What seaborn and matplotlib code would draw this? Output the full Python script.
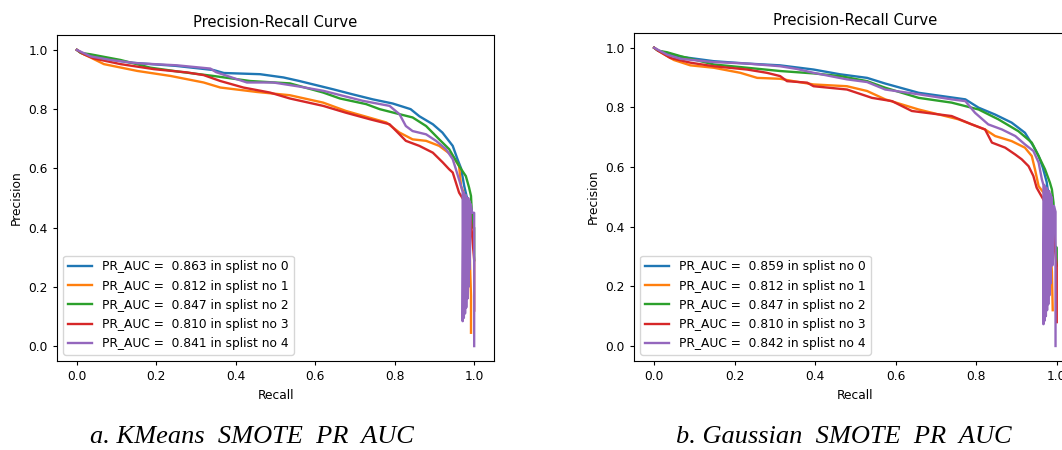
import matplotlib
matplotlib.use("Agg")
import matplotlib.pyplot as plt
import seaborn as sns
import pandas as pd

# ---- data (recall, precision) ----
kmeans_auc = [0.863, 0.812, 0.847, 0.810, 0.841]
gauss_auc = [0.859, 0.812, 0.847, 0.810, 0.842]

# KMeans SMOTE
km_rec_0 = [0.0, 0.01, 0.03, 0.068, 0.135, 0.25, 0.344, 0.37, 0.461, 0.52, 0.56, 0.645, 0.694, 0.745,
            0.795, 0.84, 0.862, 0.896, 0.92, 0.946, 0.958, 0.967, 0.975, 0.982, 0.99]
km_pre_0 = [1.0, 0.99, 0.98, 0.971, 0.957, 0.946, 0.932, 0.922, 0.918, 0.907, 0.895, 0.867, 0.85, 0.833,
            0.819, 0.80, 0.776, 0.749, 0.721, 0.676, 0.631, 0.600, 0.54, 0.50, 0.42]
km_rec_1 = [0.0, 0.01, 0.035, 0.068, 0.152, 0.236, 0.319, 0.361, 0.453, 0.536, 0.62, 0.677, 0.779, 0.812,
            0.845, 0.879, 0.912, 0.946, 0.962, 0.967, 0.985, 0.992, 0.992]
km_pre_1 = [1.0, 0.99, 0.974, 0.952, 0.929, 0.912, 0.89, 0.873, 0.858, 0.847, 0.822, 0.794, 0.755, 0.721,
            0.698, 0.693, 0.676, 0.642, 0.608, 0.54, 0.48, 0.169, 0.045]
km_rec_2 = [0.0, 0.01, 0.035, 0.11, 0.185, 0.26, 0.344, 0.436, 0.536, 0.62, 0.662, 0.728, 0.762, 0.812,
            0.845, 0.879, 0.912, 0.937, 0.962, 0.979, 0.987, 0.992, 0.996, 1.0, 1.0]
km_pre_2 = [1.0, 0.99, 0.985, 0.966, 0.94, 0.926, 0.912, 0.895, 0.887, 0.856, 0.836, 0.817, 0.80, 0.783,
            0.772, 0.743, 0.698, 0.665, 0.608, 0.574, 0.536, 0.507, 0.40, 0.40, 0.29]
km_rec_3 = [0.0, 0.018, 0.043, 0.11, 0.194, 0.277, 0.319, 0.361, 0.419, 0.486, 0.536, 0.62, 0.677, 0.737,
            0.787, 0.812, 0.828, 0.862, 0.896, 0.921, 0.937, 0.946, 0.962, 0.975, 0.99, 1.0, 1.0]
km_pre_3 = [1.0, 0.985, 0.971, 0.952, 0.935, 0.924, 0.915, 0.895, 0.873, 0.856, 0.836, 0.811, 0.788, 0.766,
            0.749, 0.715, 0.693, 0.676, 0.653, 0.62, 0.597, 0.586, 0.518, 0.49, 0.45, 0.29, 0.12]
km_rec_4 = [0.0, 0.035, 0.085, 0.152, 0.252, 0.336, 0.35, 0.403, 0.428, 0.494, 0.561, 0.62, 0.72, 0.787,
            0.812, 0.828, 0.845, 0.879, 0.904, 0.929, 0.946, 0.954, 0.967,
            0.971, 0.971, 0.973, 0.974, 0.976, 0.977, 0.979, 0.980, 0.982, 0.983, 0.985, 0.986,
            0.988, 0.989, 0.991, 0.995, 1.0, 1.0]
km_pre_4 = [1.0, 0.978, 0.966, 0.955, 0.948, 0.937, 0.925, 0.901, 0.89, 0.89, 0.876, 0.862, 0.828, 0.811,
            0.783, 0.743, 0.726, 0.715, 0.693, 0.665, 0.631, 0.597, 0.54,
            0.52, 0.084, 0.52, 0.095, 0.51, 0.11, 0.51, 0.13, 0.50, 0.16, 0.50, 0.20,
            0.49, 0.26, 0.48, 0.45, 0.45, 0.0]

# Gaussian SMOTE
gs_rec_0 = [0.0, 0.01, 0.065, 0.148, 0.231, 0.313, 0.396, 0.462, 0.529, 0.574, 0.657, 0.773, 0.806, 0.847,
            0.888, 0.921, 0.942, 0.955, 0.965, 0.975, 0.985]
gs_pre_0 = [1.0, 0.99, 0.97, 0.955, 0.947, 0.941, 0.927, 0.911, 0.899, 0.88, 0.849, 0.827, 0.799, 0.776,
            0.749, 0.715, 0.67, 0.637, 0.60, 0.55, 0.45]
gs_rec_1 = [0.0, 0.01, 0.049, 0.09, 0.148, 0.214, 0.256, 0.313, 0.346, 0.396, 0.479, 0.529, 0.574, 0.657,
            0.756, 0.822, 0.847, 0.888, 0.921, 0.938, 0.946, 0.955, 0.975, 0.988, 0.99]
gs_pre_1 = [1.0, 0.99, 0.959, 0.941, 0.933, 0.916, 0.899, 0.896, 0.888, 0.877, 0.871, 0.855, 0.827, 0.793,
            0.76, 0.726, 0.704, 0.687, 0.665, 0.637, 0.592, 0.536, 0.50, 0.25, 0.12]
gs_rec_2 = [0.0, 0.01, 0.032, 0.065, 0.148, 0.231, 0.313, 0.396, 0.462, 0.529, 0.574, 0.657, 0.739, 0.806,
            0.855, 0.905, 0.938, 0.955, 0.971, 0.983, 0.988, 0.992, 0.996, 1.0, 1.0]
gs_pre_2 = [1.0, 0.99, 0.985, 0.972, 0.944, 0.933, 0.922, 0.914, 0.905, 0.888, 0.866, 0.832, 0.816, 0.793,
            0.76, 0.72, 0.682, 0.637, 0.592, 0.548, 0.525, 0.48, 0.335, 0.33, 0.27]
gs_rec_3 = [0.0, 0.01, 0.04, 0.09, 0.148, 0.231, 0.28, 0.313, 0.33, 0.38, 0.396, 0.479, 0.541, 0.591,
            0.64, 0.739, 0.789, 0.822, 0.839, 0.872, 0.897, 0.913, 0.93, 0.942, 0.95, 0.963, 0.985, 1.0, 1.0]
gs_pre_3 = [1.0, 0.99, 0.966, 0.95, 0.938, 0.927, 0.916, 0.905, 0.888, 0.883, 0.871, 0.86, 0.832, 0.821,
            0.788, 0.771, 0.743, 0.726, 0.682, 0.665, 0.642, 0.626, 0.603, 0.57, 0.531, 0.50, 0.45, 0.27, 0.08]
gs_rec_4 = [0.0, 0.032, 0.065, 0.148, 0.231, 0.313, 0.354, 0.396, 0.479, 0.529, 0.574, 0.657, 0.739, 0.773,
            0.797, 0.83, 0.864, 0.897, 0.921, 0.942, 0.955, 0.963,
            0.967, 0.967, 0.969, 0.970, 0.972, 0.973, 0.975, 0.976, 0.978, 0.979, 0.981, 0.982,
            0.984, 0.985, 0.987, 0.989, 0.993, 0.997, 0.997]
gs_pre_4 = [1.0, 0.977, 0.963, 0.952, 0.947, 0.938, 0.929, 0.916, 0.894, 0.885, 0.86, 0.844, 0.827, 0.821,
            0.782, 0.743, 0.726, 0.704, 0.676, 0.654, 0.615, 0.559,
            0.54, 0.073, 0.54, 0.085, 0.53, 0.10, 0.53, 0.12, 0.52, 0.14, 0.52, 0.17,
            0.51, 0.21, 0.50, 0.27, 0.47, 0.45, 0.0]

panels = [
    (kmeans_auc, [(km_rec_0, km_pre_0), (km_rec_1, km_pre_1), (km_rec_2, km_pre_2),
                  (km_rec_3, km_pre_3), (km_rec_4, km_pre_4)]),
    (gauss_auc, [(gs_rec_0, gs_pre_0), (gs_rec_1, gs_pre_1), (gs_rec_2, gs_pre_2),
                 (gs_rec_3, gs_pre_3), (gs_rec_4, gs_pre_4)]),
]
captions = ["a. KMeans  SMOTE  PR  AUC", "b. Gaussian  SMOTE  PR  AUC"]
colors = sns.color_palette("tab10", 5)

fs = 8.8
fig = plt.figure(figsize=(10.62, 4.5), dpi=100)
ax_boxes = [[0.0537, 0.198, 0.4115, 0.724], [0.597, 0.198, 0.417, 0.729]]

for box, (aucs, curves) in zip(ax_boxes, panels):
    ax = fig.add_axes(box)
    for i, (rec, pre) in enumerate(curves):
        df = pd.DataFrame({"recall": rec, "precision": pre})
        sns.lineplot(data=df, x="recall", y="precision", sort=False, estimator=None,
                     color=colors[i], linewidth=1.7,
                     label=f"PR_AUC =  {aucs[i]:.3f} in splist no {i}", ax=ax)
    ax.set_xlim(-0.05, 1.05)
    ax.set_ylim(-0.05, 1.05)
    ax.set_xticks([0.0, 0.2, 0.4, 0.6, 0.8, 1.0])
    ax.set_yticks([0.0, 0.2, 0.4, 0.6, 0.8, 1.0])
    ax.tick_params(labelsize=fs, length=3.1)
    ax.set_title("Precision-Recall Curve", fontsize=10.6)
    ax.set_xlabel("Recall", fontsize=fs)
    ax.set_ylabel("Precision", fontsize=fs)
    ax.legend(loc="lower left", fontsize=fs)

for cx, text in zip([0.237, 0.795], captions):
    fig.text(cx, 0.029, text, ha="center", va="center", fontsize=19,
             family="Liberation Serif", style="italic")

fig.savefig("out.png", dpi=100)
